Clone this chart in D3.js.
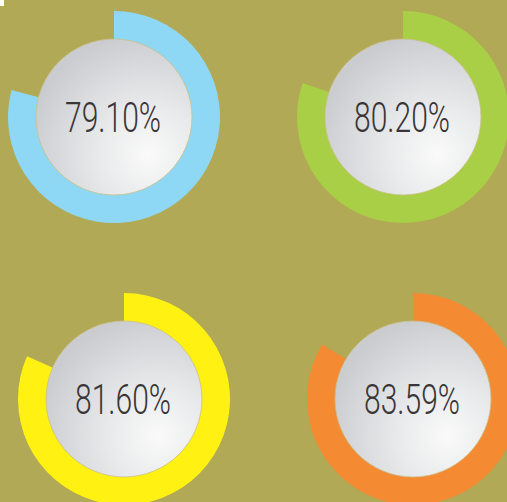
<!DOCTYPE html>
<html><head><meta charset="utf-8">
<script src="https://cdn.jsdelivr.net/npm/d3@7"></script>
<style>html,body{margin:0;padding:0;background:#b1a955;}svg{display:block;}</style>
</head><body>
<script>
const labels = ["79.10%", "80.20%", "81.60%", "83.59%"];
const values = [79.10, 80.20, 81.60, 83.59];
const colors = ["#8fd8f5", "#a8cf45", "#fff212", "#f48a32"];
const centersX = [114, 403, 124, 413];
const centersY = [117, 117, 399, 399];

const W = 507, H = 502;
const svg = d3.select("body").append("svg").attr("width", W).attr("height", H);
svg.append("rect").attr("width", W).attr("height", H).attr("fill", "#b1a955");
svg.append("rect").attr("width", 4).attr("height", 6).attr("fill", "#ffffff");

const defs = svg.append("defs");
const grad = defs.append("radialGradient").attr("id", "ball")
  .attr("cx", "72%").attr("cy", "74%").attr("r", "78%")
  .attr("fx", "72%").attr("fy", "74%");
grad.append("stop").attr("offset", "0%").attr("stop-color", "#fafafa");
grad.append("stop").attr("offset", "40%").attr("stop-color", "#e9eaeb");
grad.append("stop").attr("offset", "100%").attr("stop-color", "#cbccd0");

const angle = d3.scaleLinear().domain([0, 100]).range([0, 2 * Math.PI]);
const arc = d3.arc().innerRadius(77).outerRadius(106).startAngle(0);

values.forEach((v, i) => {
  const g = svg.append("g").attr("transform", `translate(${centersX[i]},${centersY[i]})`);
  g.append("path").attr("d", arc({endAngle: angle(v)})).attr("fill", colors[i]);
  g.append("circle").attr("r", 78).attr("fill", "url(#ball)")
    .attr("stroke", "#c9bf86").attr("stroke-width", 0.8);
  g.append("text").text(labels[i])
    .attr("x", -1).attr("y", 15)
    .attr("text-anchor", "middle")
    .attr("font-family", "Roboto, 'DejaVu Sans', sans-serif")
    .attr("font-weight", 300)
    .attr("font-size", 43)
    .attr("fill", "#3a3637")
    .attr("textLength", 96)
    .attr("lengthAdjust", "spacingAndGlyphs");
});
</script>
</body></html>
